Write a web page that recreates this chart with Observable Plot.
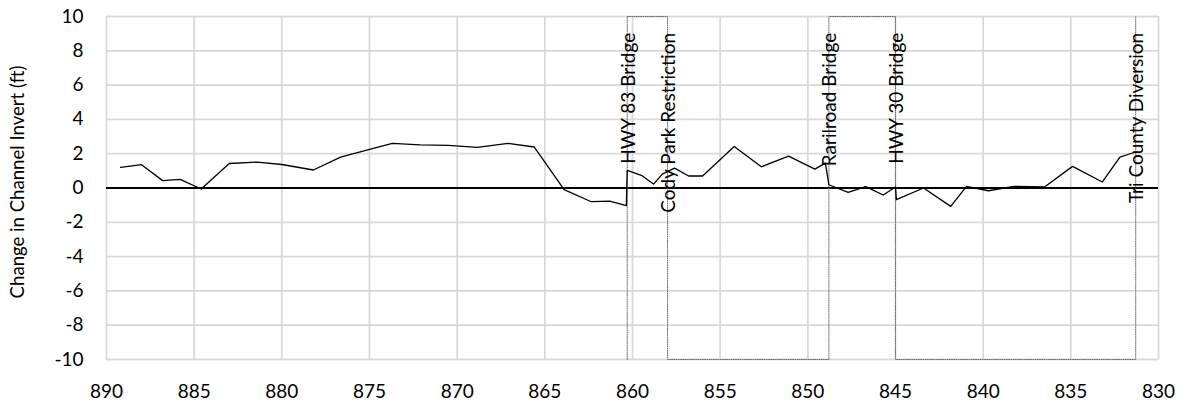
<!DOCTYPE html>
<html><head><meta charset="utf-8">
<script src="https://cdn.jsdelivr.net/npm/d3@7"></script>
<script src="https://cdn.jsdelivr.net/npm/@observablehq/plot@0.6"></script>
<style>body{margin:0;background:#fff;font-family:Lato,sans-serif;}</style>
</head><body><div id="chart"></div>
<script>
// River station (x) and change in channel invert (ft)
const station = [889.2, 888.0, 886.8, 885.8, 884.6, 883.0, 881.4, 880.0, 878.2, 876.65, 875.0,
  873.7, 872.1, 870.5, 868.85, 867.1, 865.6, 863.9, 862.35, 861.3, 860.35, 860.3, 859.5, 858.8,
  858.3, 857.6, 856.8, 856.0, 854.2, 852.65, 851.1, 849.6, 849.0, 848.8, 847.7, 846.7, 845.7,
  845.0, 844.95, 843.4, 841.85, 840.95, 839.7, 838.25, 836.5, 834.9, 833.2, 832.2, 831.4];
const change = [1.2, 1.36, 0.43, 0.5, -0.06, 1.43, 1.51, 1.37, 1.05, 1.8, 2.25,
  2.6, 2.52, 2.48, 2.37, 2.6, 2.39, -0.1, -0.8, -0.76, -1.03, 1.03, 0.74, 0.23,
  0.81, 1.16, 0.7, 0.7, 2.42, 1.24, 1.86, 1.1, 1.45, 0.19, -0.26, 0.08, -0.41,
  0.06, -0.68, 0.0, -1.07, 0.1, -0.16, 0.1, 0.06, 1.26, 0.35, 1.8, 2.07];

// Structures along the reach
const featureNames = ["HWY 83 Bridge", "Cody Park Restriction", "Rarilroad Bridge", "HWY 30 Bridge", "Tri County Diversion"];
const featureStations = [860.3, 858.0, 848.8, 845.0, 831.3];

// Dotted structure marker series
const markerStations = [860.3, 860.3, 858.0, 858.0, 848.8, 848.8, 845.0, 845.0, 831.3, 831.3];
const markerValues = [-10, 10, 10, -10, -10, 10, 10, -10, -10, 10];

const xTicks = [890, 885, 880, 875, 870, 865, 860, 855, 850, 845, 840, 835, 830];
const yTicks = [-10, -8, -6, -4, -2, 0, 2, 4, 6, 8, 10];
const yTitle = "Change in Channel Invert (ft)";

const profile = station.map((s, i) => ({station: s, change: change[i]}));
const markers = markerStations.map((s, i) => ({station: s, value: markerValues[i]}));
const features = featureNames.map((n, i) => ({name: n, station: featureStations[i]}));

const chart = Plot.plot({
  width: 1185,
  height: 406,
  marginLeft: 106,
  marginRight: 27,
  marginTop: 16,
  marginBottom: 47,
  style: {fontFamily: "Lato, sans-serif", color: "#000", background: "#fff"},
  x: {domain: [890, 830], ticks: xTicks, label: null},
  y: {domain: [-10, 10], ticks: yTicks, label: null},
  marks: [
    Plot.ruleX(xTicks, {stroke: "#d9d9d9", strokeWidth: 1.8}),
    Plot.ruleY(yTicks, {stroke: "#d9d9d9", strokeWidth: 1.8}),
    Plot.ruleY([0], {stroke: "#000", strokeWidth: 2}),
    Plot.line(markers, {x: "station", y: "value", stroke: "#6e6e6e", strokeWidth: 1, strokeDasharray: "1,1.2"}),
    Plot.line(profile, {x: "station", y: "change", stroke: "#000", strokeWidth: 1.3}),
    Plot.text(features, {x: "station", y: 9.05, text: "name", rotate: -90, textAnchor: "end", dx: 1.5, fontSize: 19, fill: "#000"}),
    Plot.axisX({ticks: xTicks, tickSize: 0, tickPadding: 25, fontSize: 19, label: null, tickFormat: d => String(d)}),
    Plot.axisY({ticks: yTicks, tickSize: 0, tickPadding: 23, fontSize: 19, label: null, tickFormat: d => String(d)}),
    Plot.text([yTitle], {frameAnchor: "left", textAnchor: "middle", dx: -88, dy: -6, rotate: -90, fontSize: 18.6, fill: "#000"})
  ]
});
document.getElementById("chart").appendChild(chart);
</script>
</body></html>
